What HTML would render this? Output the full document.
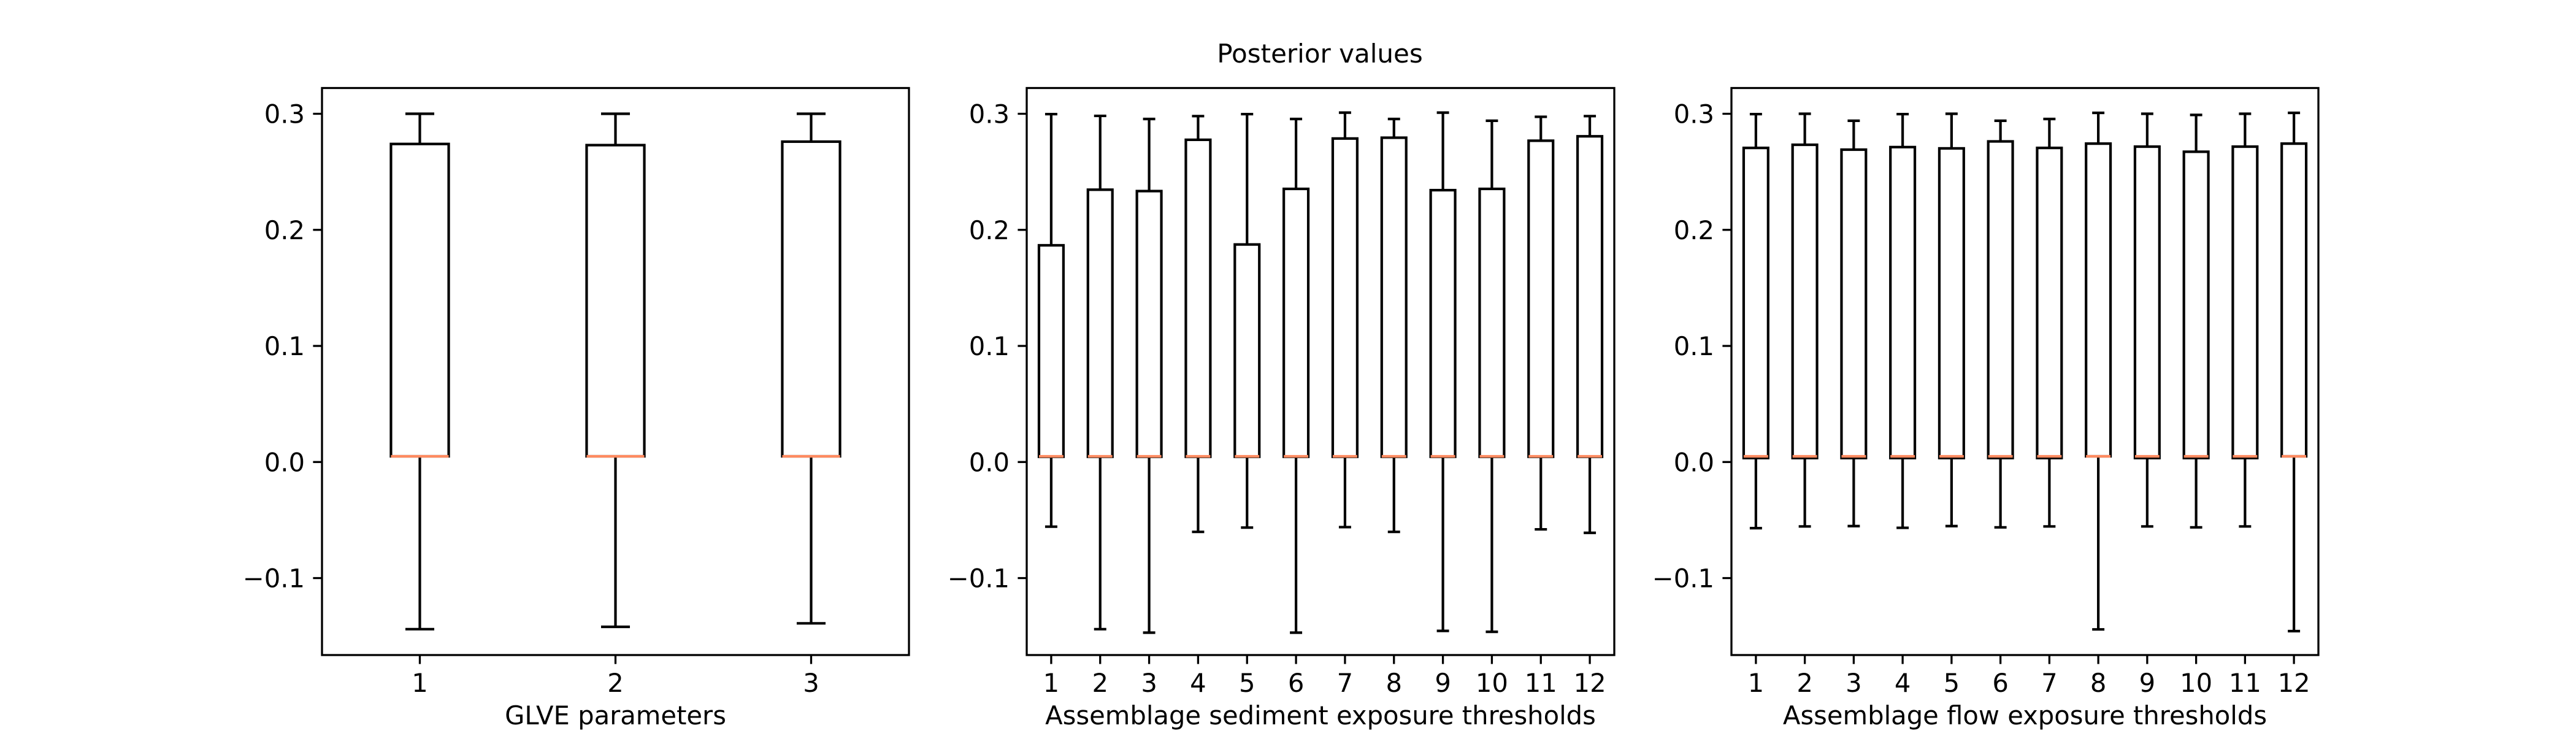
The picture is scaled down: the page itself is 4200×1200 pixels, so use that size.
<!DOCTYPE html>
<html><head><meta charset="utf-8"><style>
html,body{margin:0;padding:0;background:#fff;}
svg{display:block;font-family:"DejaVu Sans","Liberation Sans",sans-serif;}
</style></head>
<body>
<svg id="fig" width="4200" height="1200" viewBox="0 0 4200 1200" xmlns="http://www.w3.org/2000/svg">
<rect width="4200" height="1200" fill="#fff"/>
<text x="2152" y="102" font-size="42" text-anchor="middle">Posterior values</text>
</svg>
<script>
const yTicks = [0.3, 0.2, 0.1, 0.0, -0.1];
const yTickLabels = ["0.3", "0.2", "0.1", "0.0", "\u22120.1"];
const xlabel1 = "GLVE parameters";
const xlabel2 = "Assemblage sediment exposure thresholds";
const xlabel3 = "Assemblage flow exposure thresholds";
const cats1 = ["1","2","3"];
const cats12 = ["1","2","3","4","5","6","7","8","9","10","11","12"];
// panel 1
const p1WhiskHi = [0.300, 0.300, 0.300];
const p1Q3 = [0.274, 0.273, 0.276];
const p1Med = [0.0049, 0.0049, 0.0049];
const p1Q1 = [0.0049, 0.0049, 0.0049];
const p1WhiskLo = [-0.144, -0.142, -0.139];
// panel 2
const p2WhiskHi = [0.2997, 0.2982, 0.2955, 0.298, 0.2997, 0.2955, 0.301, 0.2955, 0.301, 0.294, 0.2974, 0.298];
const p2Q3 = [0.1867, 0.2346, 0.2334, 0.2776, 0.1874, 0.2353, 0.2787, 0.2794, 0.2342, 0.2353, 0.2768, 0.2806];
const p2Med = [0.0049, 0.0049, 0.0049, 0.0049, 0.0049, 0.0049, 0.0049, 0.0049, 0.0049, 0.0049, 0.0049, 0.0049];
const p2Q1 = [0.0045, 0.0045, 0.0045, 0.0045, 0.0045, 0.0045, 0.0045, 0.0045, 0.0045, 0.0045, 0.0045, 0.0045];
const p2WhiskLo = [-0.0557, -0.144, -0.147, -0.0602, -0.0565, -0.147, -0.0561, -0.0602, -0.1455, -0.1463, -0.058, -0.061];
// panel 3
const p3WhiskHi = [0.2997, 0.300, 0.294, 0.2997, 0.300, 0.294, 0.2955, 0.3008, 0.300, 0.299, 0.300, 0.3008];
const p3Q3 = [0.2706, 0.2733, 0.2691, 0.2713, 0.2702, 0.2762, 0.2706, 0.2743, 0.2717, 0.2673, 0.2717, 0.2743];
const p3Med = [0.0049, 0.0049, 0.0049, 0.0049, 0.0049, 0.0049, 0.0049, 0.0049, 0.0049, 0.0049, 0.0049, 0.0049];
const p3Q1 = [0.0034, 0.0034, 0.0034, 0.0034, 0.0034, 0.0034, 0.0034, 0.0049, 0.0034, 0.0034, 0.0034, 0.0049];
const p3WhiskLo = [-0.057, -0.0555, -0.0552, -0.0567, -0.0552, -0.0563, -0.0555, -0.1442, -0.0555, -0.0563, -0.0555, -0.1457];

const NS = "http://www.w3.org/2000/svg";
const svg = document.getElementById("fig");
const TOP = 143.5, BOT = 1068, YMAX = 0.3222, YMIN = -0.1663;
function yScale(v){ return BOT - (v - YMIN) / (YMAX - YMIN) * (BOT - TOP); }
function mk(tag, attrs, parent){
  const e = document.createElementNS(NS, tag);
  for (const k in attrs) e.setAttribute(k, attrs[k]);
  (parent || svg).appendChild(e);
  return e;
}
const LW = 4.2;
function panel(idx, left, right, cats, hi, q3, med, q1, lo, xlabel, boxW){
  const g = mk("g", {});
  
  
  const n = cats.length;
  const xScale = (i) => left + ((i + 1) - 0.5) / n * (right - left);
  const unit = (right - left) / n;
  // y ticks
  yTicks.forEach((t, k) => {
    const y = yScale(t);
    const tk = mk("line", {x1: left - 14.6, x2: left, y1: y, y2: y, stroke: "#000", "stroke-width": 3.3}, g);
    
    
    const tl = mk("text", {x: left - 28, y: y + 15, "font-size": 41.7, "text-anchor": "end"}, g);
    tl.textContent = yTickLabels[k];
    
    
  });
  for (let i = 0; i < n; i++){
    const cx = xScale(i);
    const bw = boxW * unit, cw = bw / 2;
    const bg = mk("g", {fill: "none", stroke: "#000", "stroke-width": LW}, g);
    
    
    mk("line", {x1: cx, x2: cx, y1: yScale(hi[i]), y2: yScale(q3[i])}, bg);
    mk("line", {x1: cx, x2: cx, y1: yScale(q1[i]), y2: yScale(lo[i])}, bg);
    mk("line", {x1: cx - cw/2, x2: cx + cw/2, y1: yScale(hi[i]), y2: yScale(hi[i])}, bg);
    mk("line", {x1: cx - cw/2, x2: cx + cw/2, y1: yScale(lo[i]), y2: yScale(lo[i])}, bg);
    mk("rect", {x: cx - bw/2, y: yScale(q3[i]), width: bw, height: Math.max(0, yScale(q1[i]) - yScale(q3[i]))}, bg);
    const m = mk("line", {x1: cx - bw/2, x2: cx + bw/2, y1: yScale(med[i]), y2: yScale(med[i]), stroke: "#ff8a60", "stroke-width": LW}, g);
    
    
    const tk = mk("line", {x1: cx, x2: cx, y1: BOT, y2: BOT + 14.6, stroke: "#000", "stroke-width": 3.3}, g);
    
    
    const tl = mk("text", {x: cx, y: 1128, "font-size": 41.7, "text-anchor": "middle"}, g);
    tl.textContent = cats[i];
    
    
  }
  const fr = mk("rect", {x: left, y: TOP, width: right - left, height: BOT - TOP, fill: "none", stroke: "#000", "stroke-width": 3.3}, g);
  
  
  const xl = mk("text", {x: (left + right) / 2, y: 1181, "font-size": 41.7, "text-anchor": "middle"}, g);
  xl.textContent = xlabel;
  
  
}
panel(1, 525, 1482, cats1, p1WhiskHi, p1Q3, p1Med, p1Q1, p1WhiskLo, xlabel1, 0.295);
panel(2, 1674, 2632, cats12, p2WhiskHi, p2Q3, p2Med, p2Q1, p2WhiskLo, xlabel2, 0.5);
panel(3, 2823, 3780, cats12, p3WhiskHi, p3Q3, p3Med, p3Q1, p3WhiskLo, xlabel3, 0.5);
</script>
</body></html>
